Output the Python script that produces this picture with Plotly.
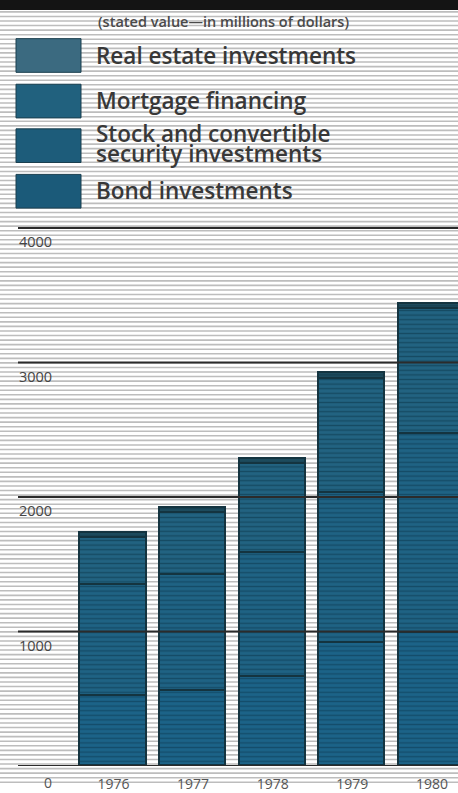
import plotly.graph_objects as go

# ---- data (millions of dollars, stated value) ----
years = [1976, 1977, 1978, 1979, 1980]
bond = [520, 560, 663, 914, 987]
stock = [825, 862, 921, 1113, 1482]
mortgage = [347, 459, 660, 851, 925]
real_estate = [40, 35, 40, 40, 40]

y_ticks = [1000, 2000, 3000, 4000]
y_tick_labels = ["1000", "2000", "3000", "4000"]
year_labels = ["1976", "1977", "1978", "1979", "1980"]
subtitle = "(stated value\u2014in millions of dollars)"

W, H = 458, 793
BOTTOM = 773          # pixel row of the zero baseline
PX_PER_UNIT = 0.13575  # pixels per million
PITCH = 79.6
X0 = 1976 - 113.5 / PITCH

def py2paper(py):
    return (BOTTOM - py) / BOTTOM

fig = go.Figure()

bar_specs = [
    ("Bond investments", bond, "#1c6388", "#144d6b"),
    ("Stock and convertible security investments", stock, "#1f6384", "#154c67"),
    ("Mortgage financing", mortgage, "#226381", "#164b63"),
    ("Real estate investments", real_estate, "#1d4b5d", "#163f50"),
]
for name, vals, col, fg in bar_specs:
    fig.add_trace(go.Bar(
        x=years, y=vals, name=name, width=0.83,
        marker=dict(color=col,
                    line=dict(color="#143440", width=1.6),
                    pattern=dict(shape="-", size=4.6, solidity=0.3,
                                 fgcolor=fg, bgcolor=col, fillmode="replace")),
        showlegend=False, hoverinfo="x+y+name"))

shapes = []
# background halftone stripes
py = 12.0
while py < H:
    yp = py2paper(py)
    shapes.append(dict(type="line", xref="paper", yref="paper", x0=0, x1=1,
                       y0=yp, y1=yp, line=dict(color="#bdbdbd", width=1.6),
                       layer="below"))
    py += 4.6
# top black band
shapes.append(dict(type="rect", xref="paper", yref="paper", x0=0, x1=1,
                   y0=py2paper(10), y1=py2paper(0), fillcolor="#141414",
                   line=dict(width=0), layer="above"))
# gridlines (incl. baseline), drawn over the bars
for v in [0] + y_ticks:
    shapes.append(dict(type="line", xref="paper", yref="y", x0=18 / W, x1=1,
                       y0=v, y1=v, line=dict(color="#2b2b2b", width=2),
                       layer="above"))

# legend swatches
sw_cols = ["#3b6a80", "#21617e", "#1d5c7a", "#1b5a79"]
sw_tops = [39, 85, 130, 176]
for c, t in zip(sw_cols, sw_tops):
    shapes.append(dict(type="rect", xref="paper", yref="paper",
                       x0=16 / W, x1=81 / W, y0=py2paper(t + 34), y1=py2paper(t),
                       fillcolor=c, line=dict(color="#1a3f4f", width=1),
                       layer="above"))

annotations = []
annotations.append(dict(text=subtitle, xref="paper", yref="paper",
                        x=96 / W, y=py2paper(22), xanchor="left", yanchor="middle",
                        showarrow=False,
                        font=dict(family="Open Sans", size=14.5, color="#4a4a4a",
                                  weight=600)))
label_lines = [("Real estate investments", 56), ("Mortgage financing", 101),
               ("Stock and convertible", 135), ("security investments", 155),
               ("Bond investments", 192)]
for txt, yc in label_lines:
    annotations.append(dict(text=txt, xref="paper", yref="paper",
                            x=94 / W, y=py2paper(yc), xanchor="left",
                            yanchor="middle", showarrow=False,
                            font=dict(family="Open Sans", size=22.5,
                                      color="#383838", weight=600)))
annotations.append(dict(text="0", xref="paper", yref="y", x=48 / W, y=0,
                        yshift=-16, xanchor="center", yanchor="middle",
                        showarrow=False,
                        font=dict(family="Open Sans", size=14, color="#555")))

fig.update_layout(
    width=W, height=H, barmode="stack", bargap=0,
    margin=dict(l=0, r=0, t=0, b=H - BOTTOM, pad=0),
    paper_bgcolor="#ffffff", plot_bgcolor="rgba(0,0,0,0)",
    shapes=shapes, annotations=annotations,
    xaxis=dict(range=[X0, X0 + W / PITCH], tickvals=years, ticktext=year_labels,
               showgrid=False, zeroline=False, showline=False,
               ticks="outside", ticklen=5, tickcolor="rgba(0,0,0,0)",
               tickfont=dict(family="Open Sans", size=14, color="#555")),
    yaxis=dict(range=[0, BOTTOM / PX_PER_UNIT], tickvals=y_ticks,
               ticktext=y_tick_labels, showgrid=False, zeroline=False,
               showline=False, ticks="", ticklabelposition="inside",
               ticklabelstandoff=16, ticklabelshift=14,
               tickfont=dict(family="Open Sans", size=14.5, color="#444")),
)

fig.write_html("out.html", config={"displayModeBar": False},
               post_script="document.body.style.margin='0';"
                           "document.body.style.overflow='hidden';")
